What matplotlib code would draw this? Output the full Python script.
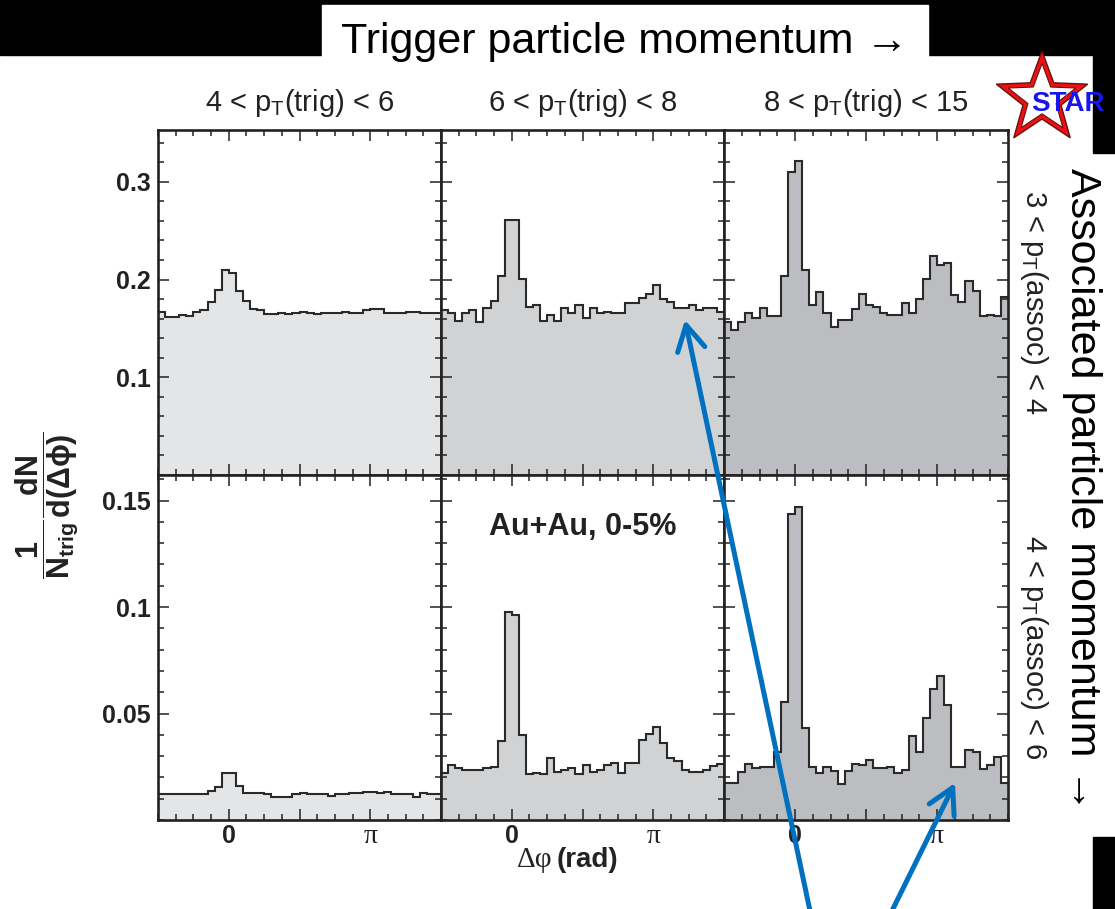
import numpy as np
import matplotlib
matplotlib.use('Agg')
import matplotlib.pyplot as plt
from matplotlib.patches import Rectangle, Polygon
from matplotlib.ticker import MultipleLocator

plt.rcParams['font.family'] = ['Liberation Sans', 'DejaVu Sans']
plt.rcParams['mathtext.fontset'] = 'custom'
plt.rcParams['mathtext.rm'] = 'Liberation Sans'
plt.rcParams['mathtext.it'] = 'Liberation Sans:italic'
plt.rcParams['mathtext.bf'] = 'Liberation Sans:bold'

# --- data: per-trigger azimuthal distributions, 40 bins from -pi/2 to 3pi/2 ---
n_bins = 40
edges = np.linspace(-np.pi / 2, 3 * np.pi / 2, n_bins + 1)

trig_labels = [r'4 < p$_\mathrm{T}$(trig) < 6',
               r'6 < p$_\mathrm{T}$(trig) < 8',
               r'8 < p$_\mathrm{T}$(trig) < 15']
assoc_labels = [r'3 < p$_\mathrm{T}$(assoc) < 4',
                r'4 < p$_\mathrm{T}$(assoc) < 6']

# 3 < pT(assoc) < 4
assoc34_trig46 = [0.167, 0.162, 0.162, 0.164, 0.163, 0.167, 0.169, 0.177, 0.189, 0.210,
                  0.207, 0.188, 0.178, 0.170, 0.169, 0.165, 0.165, 0.166, 0.165, 0.166,
                  0.167, 0.166, 0.165, 0.166, 0.166, 0.166, 0.167, 0.166, 0.166, 0.169,
                  0.170, 0.170, 0.166, 0.166, 0.166, 0.167, 0.167, 0.166, 0.166, 0.166]
assoc34_trig68 = [0.169, 0.166, 0.158, 0.166, 0.169, 0.157, 0.171, 0.178, 0.204, 0.261,
                  0.261, 0.201, 0.172, 0.174, 0.158, 0.164, 0.158, 0.171, 0.166, 0.174,
                  0.161, 0.171, 0.166, 0.167, 0.166, 0.166, 0.176, 0.176, 0.181, 0.185,
                  0.194, 0.180, 0.177, 0.171, 0.171, 0.174, 0.169, 0.171, 0.171, 0.167]
assoc34_trig815 = [0.157, 0.148, 0.157, 0.166, 0.161, 0.171, 0.163, 0.163, 0.204, 0.310,
                   0.321, 0.210, 0.174, 0.187, 0.166, 0.151, 0.159, 0.159, 0.170, 0.185,
                   0.174, 0.172, 0.166, 0.164, 0.164, 0.176, 0.166, 0.180, 0.201, 0.224,
                   0.215, 0.217, 0.184, 0.177, 0.199, 0.188, 0.163, 0.164, 0.163, 0.182]

# 4 < pT(assoc) < 6
assoc46_trig46 = [0.0120, 0.0120, 0.0120, 0.0120, 0.0120, 0.0120, 0.0120, 0.0136, 0.0155, 0.0219,
                  0.0219, 0.0162, 0.0128, 0.0128, 0.0128, 0.0120, 0.0110, 0.0110, 0.0110, 0.0120,
                  0.0128, 0.0120, 0.0120, 0.0120, 0.0112, 0.0120, 0.0120, 0.0128, 0.0128, 0.0133,
                  0.0133, 0.0125, 0.0133, 0.0120, 0.0120, 0.0120, 0.0110, 0.0128, 0.0120, 0.0120]
assoc46_trig68 = [0.0220, 0.0258, 0.0242, 0.0233, 0.0233, 0.0233, 0.0242, 0.0250, 0.0370, 0.0977,
                  0.0961, 0.0398, 0.0214, 0.0222, 0.0214, 0.0292, 0.0227, 0.0233, 0.0242, 0.0214,
                  0.0258, 0.0227, 0.0237, 0.0258, 0.0266, 0.0219, 0.0266, 0.0266, 0.0378, 0.0406,
                  0.0437, 0.0363, 0.0292, 0.0277, 0.0234, 0.0227, 0.0227, 0.0237, 0.0253, 0.0264]
assoc46_trig815 = [0.0175, 0.0175, 0.0227, 0.0264, 0.0242, 0.0250, 0.0250, 0.0320, 0.0553, 0.1436,
                   0.1469, 0.0433, 0.0250, 0.0219, 0.0250, 0.0230, 0.0170, 0.0230, 0.0264, 0.0258,
                   0.0284, 0.0242, 0.0242, 0.0250, 0.0219, 0.0234, 0.0394, 0.0319, 0.0480, 0.0617,
                   0.0675, 0.0538, 0.0250, 0.0250, 0.0328, 0.0320, 0.0241, 0.0258, 0.0295, 0.0175]

rows = [[assoc34_trig46, assoc34_trig68, assoc34_trig815],
        [assoc46_trig46, assoc46_trig68, assoc46_trig815]]

y_max = [0.353, 0.162]
y_major = [[0.1, 0.2, 0.3], [0.05, 0.1, 0.15]]
y_minor = [0.02, 0.01]
fills = ['#e4e5e7', '#d1d2d4', '#bcbdc0']
ink = '#222222'

# --- page layout in pixels ---
W, H = 1115, 909
fig = plt.figure(figsize=(W / 100, H / 100), dpi=100)
fig.patch.set_facecolor('white')

col_x = [158, 441, 724]
col_w = [283, 283, 284]
row_y = [130, 475]
row_h = [345, 345]


def px_axes(x0, y0, w, h):
    return fig.add_axes([x0 / W, 1 - (y0 + h) / H, w / W, h / H])


for r in range(2):
    for c in range(3):
        ax = px_axes(col_x[c], row_y[r], col_w[c], row_h[r])
        vals = rows[r][c]
        ax.stairs(vals, edges, fill=True, color=fills[c], baseline=0, lw=0)
        ax.stairs(vals, edges, baseline=None, color='#2a2a2a', lw=1.5)
        ax.set_xlim(-np.pi / 2, 3 * np.pi / 2)
        ax.set_ylim(0, y_max[r])

        ax.set_xticks([0, np.pi / 2, np.pi])
        ax.xaxis.set_minor_locator(MultipleLocator(np.pi / 8))
        ax.set_yticks(y_major[r])
        ax.yaxis.set_minor_locator(MultipleLocator(y_minor[r]))

        ax.tick_params(which='both', direction='in', top=True, right=True,
                       width=1.1, color=ink, labelcolor=ink)
        ax.tick_params(which='major', length=8)
        ax.tick_params(which='minor', length=4)
        ax.tick_params(axis='y', pad=5)
        ax.tick_params(axis='x', pad=3)

        if c == 0:
            ax.set_yticklabels([f'{v:g}' for v in y_major[r]],
                               fontsize=18, fontweight='bold')
        else:
            ax.tick_params(labelleft=False)
        if r == 1:
            ax.set_xticklabels(['0', '', '\u03c0'])
            lbls = ax.get_xticklabels()
            lbls[0].set_fontsize(18)
            lbls[0].set_fontweight('bold')
            lbls[2].set_fontfamily('Liberation Serif')
            lbls[2].set_fontsize(20)
        else:
            ax.tick_params(labelbottom=False)

        for sp in ax.spines.values():
            sp.set_linewidth(1.9)
            sp.set_color(ink)

        if r == 1 and c == 1:
            ax.text(0.5, 0.85, 'Au+Au, 0-5%', transform=ax.transAxes,
                    ha='center', va='center', fontsize=22, fontweight='bold',
                    color=ink)

# --- overlay in pixel coordinates for titles, logo and arrows ---
ov = fig.add_axes([0, 0, 1, 1])
ov.set_xlim(0, W)
ov.set_ylim(H, 0)
ov.axis('off')
ov.set_zorder(10)

ov.add_patch(Rectangle((0, 0), W, 55, color='black'))
ov.add_patch(Rectangle((322, 5), 606, 52, color='white'))
ov.add_patch(Rectangle((1093, 55), 22, 98, color='black'))
ov.add_patch(Rectangle((1093, 837), 22, 72, color='black'))

ov.text(625, 42, 'Trigger particle momentum \u2192', fontsize=31,
        ha='center', va='center')
ov.text(1082, 490, 'Associated particle momentum \u2192', fontsize=31,
        rotation=-90, ha='center', va='center')

for c in range(3):
    ov.text(col_x[c] + col_w[c] / 2, 103, trig_labels[c], fontsize=21,
            ha='center', va='center', color=ink)
for r in range(2):
    ov.text(1034, row_y[r] + row_h[r] / 2, assoc_labels[r], fontsize=21,
            rotation=-90, ha='center', va='center', color=ink)

ov.text(47, 505, r'$\mathbf{\dfrac{1}{N_{trig}}\dfrac{dN}{d(\Delta\phi)}}$',
        fontsize=22, rotation=90, ha='center', va='center', color=ink)
ov.text(553, 860, '\u0394\u03c6', fontsize=21, family='Liberation Serif',
        ha='right', va='center', color=ink)
ov.text(557, 860, '(rad)', fontsize=20, fontweight='bold',
        ha='left', va='center', color=ink)

# STAR logo
cx, cy, R_out, R_in = 1042, 99, 48, 20
ang = np.deg2rad(-90 + 36 * np.arange(10))
rad = np.where(np.arange(10) % 2 == 0, R_out, R_in)
star = np.column_stack([cx + rad * np.cos(ang), cy + rad * np.sin(ang)])
ov.add_patch(Polygon(star, closed=True, facecolor='#ee1111',
                     edgecolor='#661111', lw=1))
inner = np.column_stack([cx + 0.74 * rad * np.cos(ang), cy + 0.74 * rad * np.sin(ang)])
ov.add_patch(Polygon(inner, closed=True, facecolor='white',
                     edgecolor='#661111', lw=0.8))
ov.text(1031, 104, 'STAR', fontsize=20, fontweight='bold', color='#1515ee',
        ha='left', va='center')

# blue pointer arrows
arrow_kw = dict(arrowstyle='->,head_length=0.9,head_width=0.5',
                color='#0070c0', lw=3.6, mutation_scale=20,
                shrinkA=0, shrinkB=0)
ov.annotate('', xy=(685, 320), xytext=(813, 925), arrowprops=arrow_kw,
            annotation_clip=False)
ov.annotate('', xy=(955, 783), xytext=(885, 925), arrowprops=arrow_kw,
            annotation_clip=False)

fig.savefig('out.png', dpi=100, facecolor='white')
